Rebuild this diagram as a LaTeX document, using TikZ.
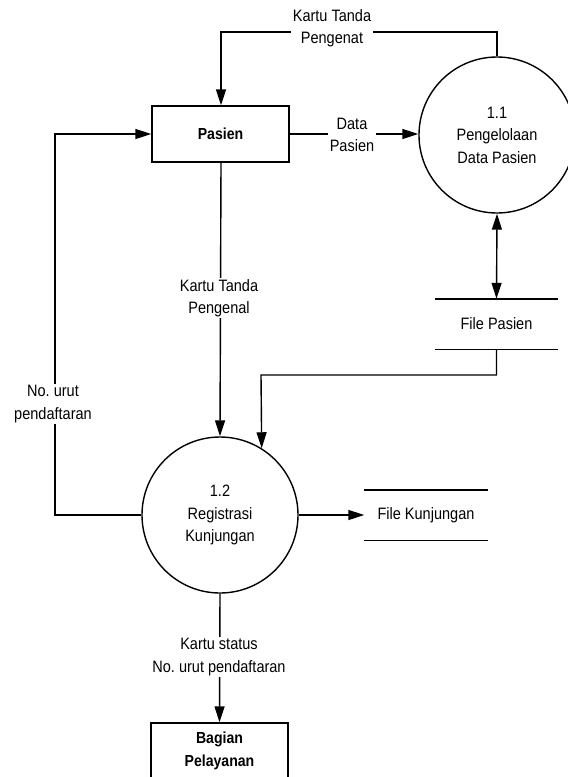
\documentclass[tikz,border=0pt]{standalone}
\usepackage{fontspec}
\setmainfont{Liberation Sans}[FakeStretch=0.88]
\usepackage{tikz}
\usetikzlibrary{positioning,arrows.meta,calc}
\tikzset{
  flowarrow/.style={-{Triangle[length=16pt,width=10pt]}, line width=1.4pt},
  botharrow/.style={{Triangle[length=16pt,width=10pt]}-{Triangle[length=16pt,width=10pt]}, line width=1.4pt},
  entitybox/.style={draw, line width=1.4pt, minimum width=137pt, minimum height=56pt, align=center, font=\fontsize{16}{23}\selectfont\bfseries},
  process/.style={draw, circle, line width=1.4pt, minimum size=156pt, inner sep=0pt, align=center},
  storebox/.style={minimum width=123pt, minimum height=50pt, align=center},
  storeline/.style={line width=1.4pt},
  flowlabel/.style={fill=white, align=center, inner sep=1.5pt}
}

\begin{document}
\begin{tikzpicture}[x=1pt, y=-1pt, every node/.style={font=\fontsize{16.5}{22.5}\selectfont}]
  \useasboundingbox (0,0) rectangle (568,777);
  \clip (0,0) rectangle (568,777);

  \node[entitybox] (pasien) at (220.5,134) {Pasien};
  \node[process] (p11) at (497,135) {1.1\\Pengelolaan\\Data Pasien};
  \node[storebox] (fpasien) at (496.5,324) {File Pasien};
  \node[process] (p12) at (220,515) {1.2\\Registrasi\\Kunjungan};
  \node[storebox] (fkunj) at (426,515) {File Kunjungan};
  \node[entitybox] (bagian) at (219.5,751) {Bagian\\Pelayanan};

  \draw[storeline] (fpasien.north west) -- (fpasien.north east) (fpasien.south west) -- (fpasien.south east);
  \draw[storeline] (fkunj.north west) -- (fkunj.north east) (fkunj.south west) -- (fkunj.south east);

  \coordinate (topbend) at (221,32);
  \coordinate (filebend) at (261,375);
  \coordinate (leftbend) at (55,134);

  \draw[flowarrow] (p11.north) |- (topbend) -- (topbend |- pasien.north);
  \draw[flowarrow] (pasien.east) -- (pasien.east -| p11.west);
  \draw[flowarrow] (pasien.south -| topbend) -- (p12.north);
  \draw[botharrow] (p11.south) -- (fpasien.north);
  \draw[flowarrow] (fpasien.south) |- (filebend) -- (p12.58);
  \draw[flowarrow] (p12.west) -| (leftbend) -- (pasien.west);
  \draw[flowarrow] (p12.east) -- (fkunj.west);
  \draw[flowarrow] (p12.south) -- (bagian.north);

  \node[flowlabel] (lbltop) at (332,28) {Kartu Tanda\\Pengenat};
  \node[flowlabel] (lbldata) at (352,135) {Data\\Pasien};
  \node[flowlabel] (lblmid) at (219,298) {Kartu Tanda\\Pengenal};
  \node[flowlabel] (lblleft) at (53,404) {No.\ urut\\pendaftaran};
  \node[flowlabel] (lblbottom) at (219,657) {Kartu status\\No.\ urut pendaftaran};
\end{tikzpicture}
\end{document}
